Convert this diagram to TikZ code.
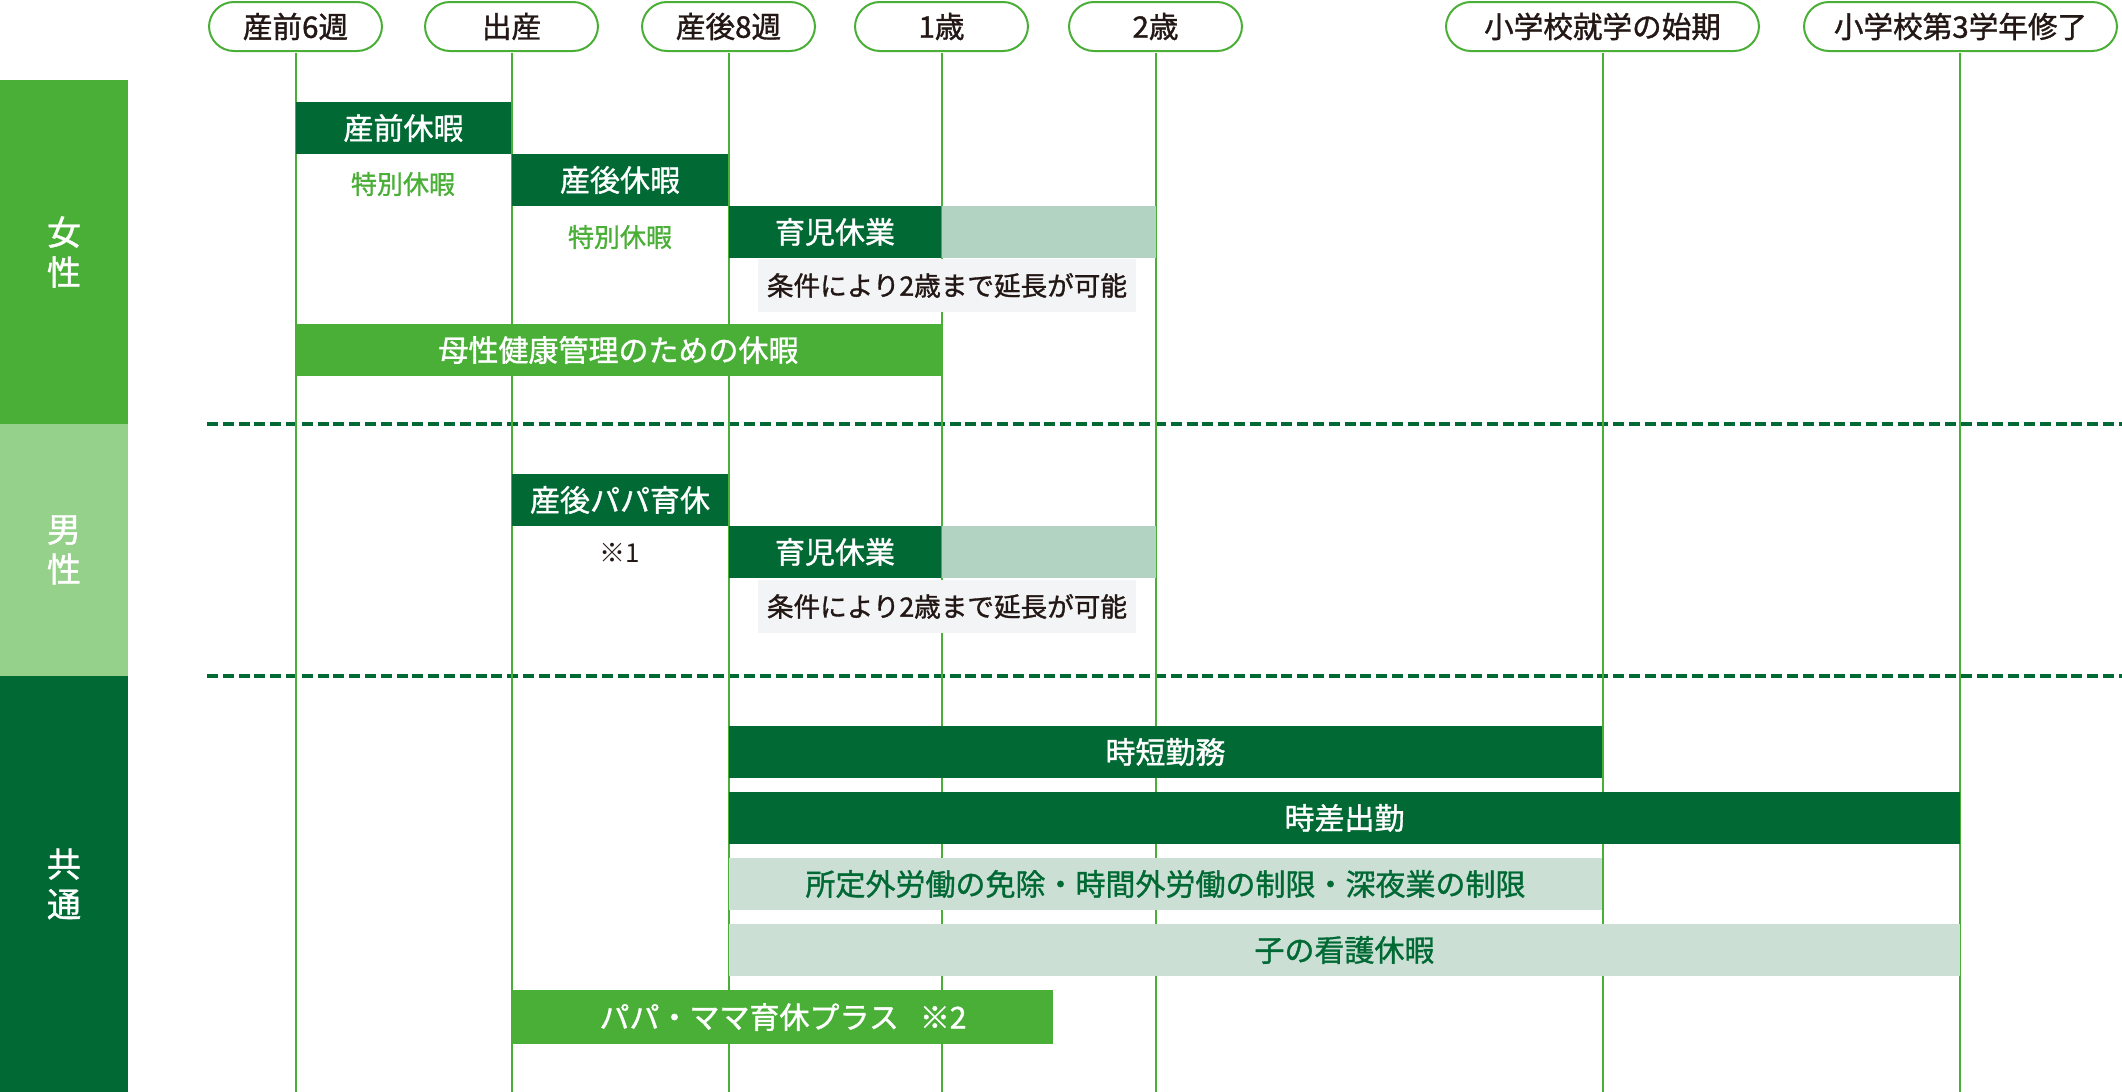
\documentclass[tikz,border=0pt]{standalone}
\usepackage{fontspec}
\setmainfont{Noto Sans CJK JP}
\newfontfamily\medf{Noto Sans CJK JP}[UprightFeatures={FakeBold=1.2}]
\definecolor{dg}{HTML}{006934}
\definecolor{mg}{HTML}{4AAF37}
\definecolor{lg}{HTML}{95D18A}
\definecolor{tl}{HTML}{B3D3C2}
\definecolor{pl}{HTML}{CBDFD5}
\definecolor{gy}{HTML}{F3F4F6}
\definecolor{tx}{HTML}{231815}
\newcommand\gbox[7]{%
  \pgfmathsetmacro\bw{(#4-#2)*0.5}\pgfmathsetmacro\bh{(#5-#3)*0.5}%
  \node[#6, minimum width=\bw pt, minimum height=\bh pt, inner sep=0pt, outer sep=0pt] (#1) at ({(#2+#4)/2},{(#3+#5)/2}) {#7};}
\tikzset{
  pill/.style={draw=mg, line width=1pt, rounded corners=12.5pt, fill=white, text=tx, font=\medf\fontsize{14.8pt}{16pt}\selectfont},
  vline/.style={draw=mg, line width=1pt},
  dline/.style={draw=dg, line width=1.6pt, dash pattern=on 5.5pt off 2.4pt},
  catlbl/.style={text=white, font=\medf\fontsize{17pt}{20pt}\selectfont, align=center},
  darkbox/.style={fill=dg, text=white, font=\medf\fontsize{15pt}{17pt}\selectfont},
  midbox/.style={fill=mg, text=white, font=\medf\fontsize{15pt}{17pt}\selectfont},
  tealbox/.style={fill=tl},
  palebox/.style={fill=pl, text=dg, font=\medf\fontsize{15pt}{17pt}\selectfont},
  graybox/.style={fill=gy, text=tx, font=\medf\fontsize{13.3pt}{16pt}\selectfont},
  note/.style={text=mg, font=\medf\fontsize{13pt}{15pt}\selectfont},
  notek/.style={text=tx, font=\fontsize{13pt}{15pt}\selectfont},
}
\begin{document}
\begin{tikzpicture}[x=0.5pt, y=-0.5pt]
\useasboundingbox (0,0) rectangle (2122,1092);
\fill[white] (0,0) rectangle (2122,1092);
% category bars
\gbox{cf}{0}{80}{128}{424}{fill=mg, catlbl}{女\\性}
\gbox{cm}{0}{424}{128}{676}{fill=lg, catlbl}{男\\性}
\gbox{cc}{0}{676}{128}{1092}{fill=dg, catlbl}{共\\通}
% dashed separators
\coordinate (d1a) at (207,424); \coordinate (d1b) at (2122,424);
\coordinate (d2a) at (207,676); \coordinate (d2b) at (2122,676);
\draw[dline] (d1a) -- (d1b);
\draw[dline] (d2a) -- (d2b);
% pills
\gbox{p1}{209}{2}{382}{51}{pill}{産前6週}
\gbox{p2}{425}{2}{598}{51}{pill}{出産}
\gbox{p3}{642}{2}{815}{51}{pill}{産後8週}
\gbox{p4}{855}{2}{1028}{51}{pill}{1歳}
\gbox{p5}{1069}{2}{1242}{51}{pill}{2歳}
\gbox{p6}{1446}{2}{1759}{51}{pill}{小学校就学の始期}
\gbox{p7}{1804}{2}{2117}{51}{pill}{小学校第3学年修了}
% vertical lines
\foreach \i/\x in {1/295.5,2/511.5,3/728.5,4/941.5,5/1155.5,6/1602.5,7/1959.5}{
  \coordinate (t\i) at (\x,53); \coordinate (b\i) at (\x,1092);
  \draw[vline] (t\i) -- (b\i);
}
% women
\gbox{a1}{296}{102}{511}{154}{darkbox}{産前休暇}
\node[note] (n1) at (403,184) {特別休暇};
\gbox{a2}{512}{154}{728}{206}{darkbox}{産後休暇}
\node[note] (n2) at (620,237) {特別休暇};
\gbox{a3}{729}{206}{941}{258}{darkbox}{育児休業}
\gbox{a3e}{942}{206}{1156}{258}{tealbox}{}
\gbox{a4}{758}{259}{1136}{312}{graybox}{条件により2歳まで延長が可能}
\gbox{a5}{296}{324}{941}{376}{midbox}{母性健康管理のための休暇}
% men
\gbox{m1}{512}{474}{728}{526}{darkbox}{産後パパ育休}
\node[notek] (n3) at (620,553) {※1};
\gbox{m2}{729}{526}{941}{578}{darkbox}{育児休業}
\gbox{m2e}{942}{526}{1156}{578}{tealbox}{}
\gbox{m3}{758}{580}{1136}{633}{graybox}{条件により2歳まで延長が可能}
% common
\gbox{c1}{729}{726}{1602}{778}{darkbox}{時短勤務}
\gbox{c2}{729}{792}{1960}{844}{darkbox}{時差出勤}
\gbox{c3}{729}{858}{1602}{910}{palebox}{所定外労働の免除・時間外労働の制限・深夜業の制限}
\gbox{c4}{729}{924}{1960}{976}{palebox}{子の看護休暇}
\gbox{c5}{513}{990}{1053}{1044}{midbox}{パパ・ママ育休プラス\hspace{0.7em}※2}
\end{tikzpicture}
\end{document}
